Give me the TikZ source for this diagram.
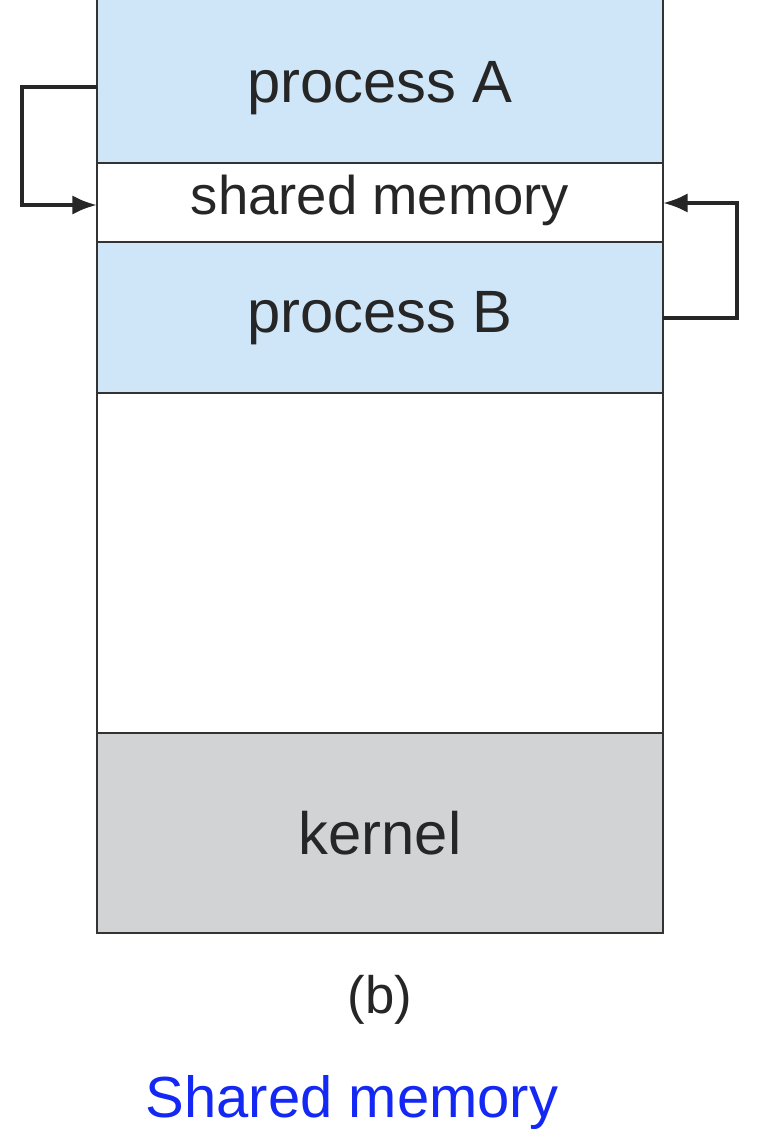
\documentclass[tikz,border=0pt]{standalone}
\usepackage{fontspec}
\setmainfont{Liberation Sans}
\usetikzlibrary{arrows.meta}
\definecolor{procblue}{RGB}{206,230,247}
\definecolor{kerngray}{RGB}{210,211,213}
\definecolor{titleblue}{RGB}{20,40,245}
\tikzset{
  region/.style={draw=black!80, line width=1pt},
  lbl/.style={font=\fontsize{34}{40}\selectfont, text=black!85},
  link/.style={draw=black!85, line width=2.2pt, -{Latex[length=14pt,width=11pt]}},
}
\begin{document}
\begin{tikzpicture}[x=0.02cm,y=-0.02cm]
  \useasboundingbox (0,0) rectangle (764,1140);
  % memory regions
  \fill[procblue] (97,0) rectangle (663,163);
  \fill[procblue] (97,242) rectangle (663,393);
  \fill[kerngray] (97,733) rectangle (663,933);
  \draw[region] (97,0) -- (97,933) -- (663,933) -- (663,0);
  \foreach \yy in {163,242,393,733}
    \draw[region] (97,\yy) -- (663,\yy);
  % labels
  \node[lbl] (PROCA) at (380,88) {process A};
  \node[lbl, font=\fontsize{31}{36}\selectfont] (SHM) at (380,200) {shared memory};
  \node[lbl] (PROCB) at (380,318) {process B};
  \node[lbl] (KERNEL) at (380,833) {kernel};
  \node[lbl, font=\fontsize{30}{36}\selectfont] (CAP) at (380,1000) {(b)};
  \node[lbl, text=titleblue, font=\fontsize{33}{40}\selectfont] (TITLE) at (352,1102) {Shared memory};
  % arrows
  \coordinate (aout) at (97,87);
  \coordinate (ain) at (97,205);
  \coordinate (bout) at (663,318);
  \coordinate (bin) at (663,203);
  \draw[link] (aout) -- (22,87) -- (22,205) -- (ain);
  \draw[link] (bout) -- (737,318) -- (737,203) -- (bin);
\end{tikzpicture}
\end{document}
